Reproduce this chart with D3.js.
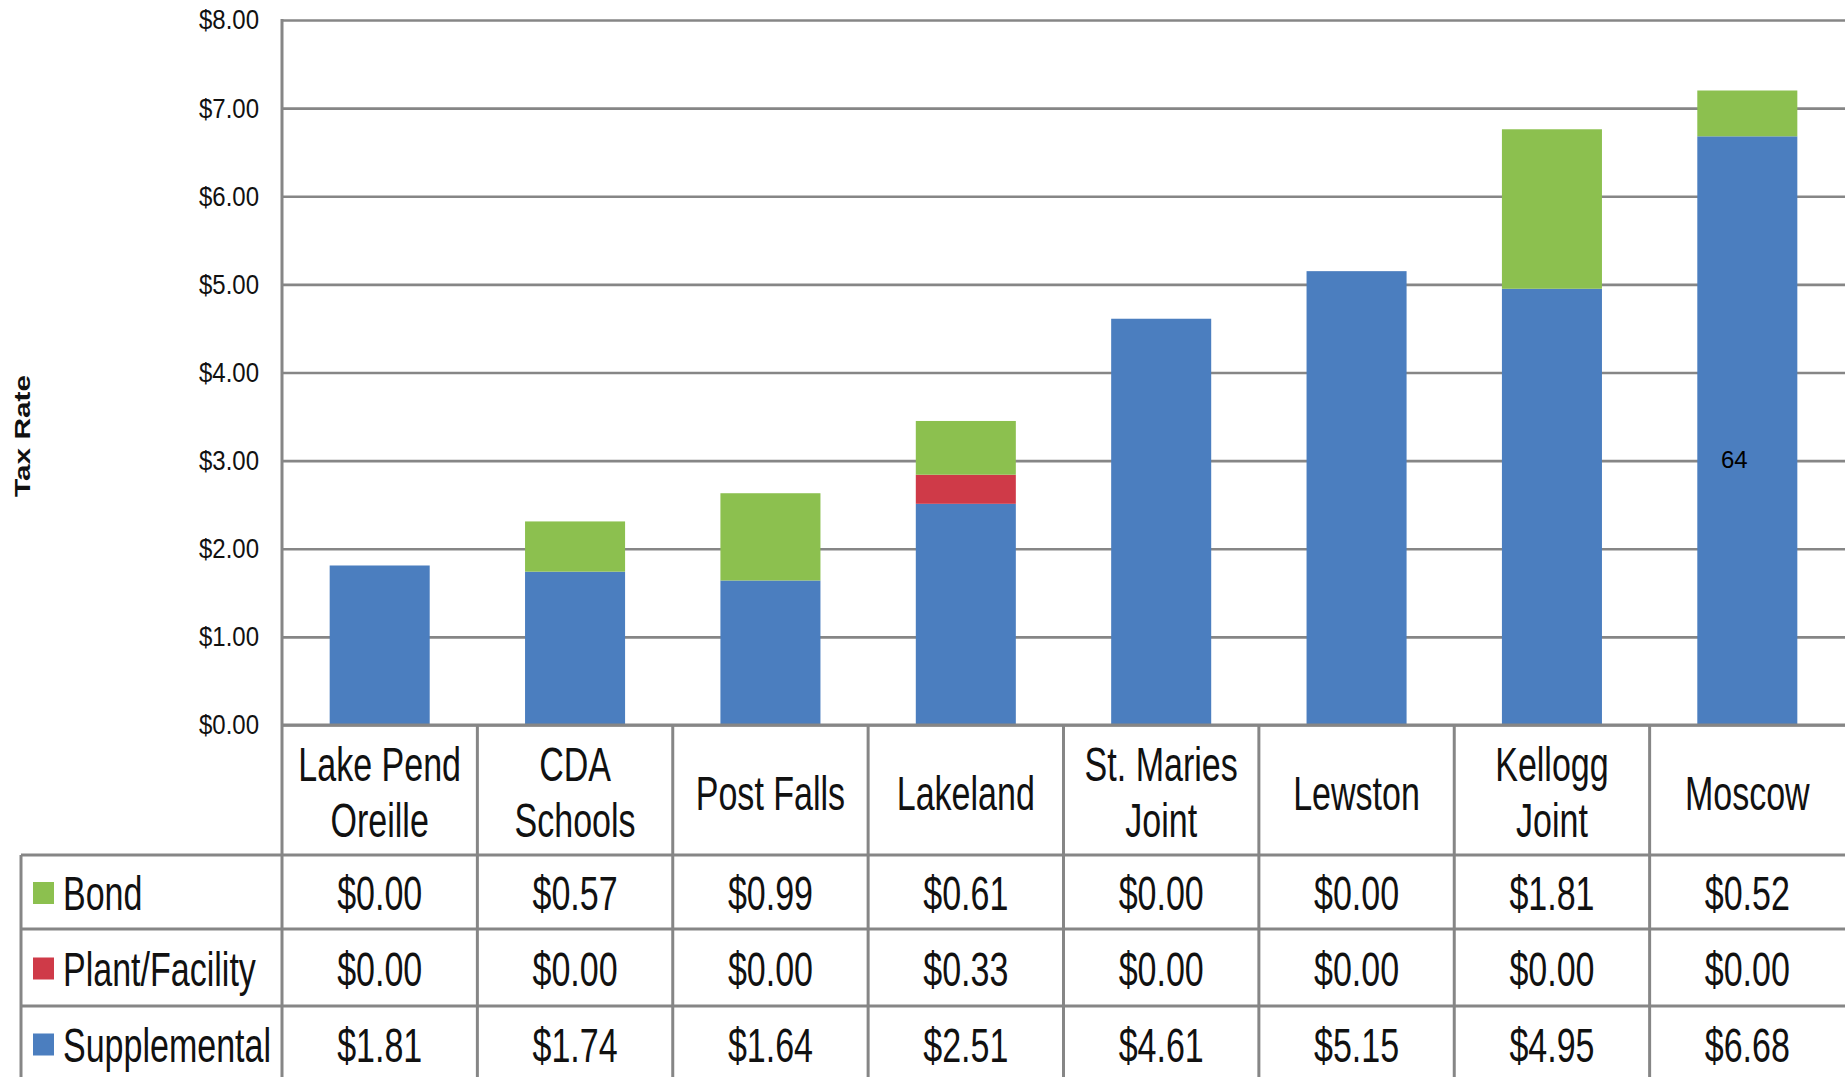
<!DOCTYPE html>
<html>
<head>
<meta charset="utf-8">
<script src="https://cdn.jsdelivr.net/npm/d3@7"></script>
<style>
  html, body { margin: 0; padding: 0; background: #fff; }
  svg { display: block; }
</style>
</head>
<body>
<div id="chart"></div>
<script>
// chart values
const categories = ['Lake Pend\nOreille', 'CDA\nSchools', 'Post Falls', 'Lakeland', 'St. Maries\nJoint', 'Lewston', 'Kellogg\nJoint', 'Moscow'];
const bond = [0.00, 0.57, 0.99, 0.61, 0.00, 0.00, 1.81, 0.52];
const plant = [0.00, 0.00, 0.00, 0.33, 0.00, 0.00, 0.00, 0.00];
const supplemental = [1.81, 1.74, 1.64, 2.51, 4.61, 5.15, 4.95, 6.68];
const seriesNames = ['Bond', 'Plant/Facility', 'Supplemental'];
const yTicks = [0, 1, 2, 3, 4, 5, 6, 7, 8];
const pageNumber = '64';

let width = 1845,
    height = 1077,
    margin = { left: 282, right: 0, top: 20 },
    plotBottom = 725,
    rowLines = [855, 929, 1006, 1081],
    tableLeft = 21,
    colors = { 'Bond': '#8cc04f', 'Plant/Facility': '#cf3a48', 'Supplemental': '#4b7ebf' },
    gridColor = '#868686',
    tableFont = '"Liberation Sans", Arial, sans-serif',
    squeeze = 0.83,
    stretch = 1.17;

const seriesValues = { 'Bond': bond, 'Plant/Facility': plant, 'Supplemental': supplemental };

const rows = categories.map(function(c, i) {
    return { cat: c, 'Bond': bond[i], 'Plant/Facility': plant[i], 'Supplemental': supplemental[i] };
});

const svg = d3.select('#chart').append('svg')
    .attr('width', width)
    .attr('height', height);

const y = d3.scaleLinear().domain([0, 8]).range([plotBottom, margin.top]);
const x = d3.scaleBand().domain(categories)
    .range([margin.left, width - margin.right])
    .paddingInner(0.488)
    .paddingOuter(0.244);
const col = d3.scaleBand().domain(categories).range([margin.left, width - margin.right]);

// gridlines + tick labels
const yAxis = d3.axisLeft(y)
    .tickValues(yTicks)
    .tickSize(-(width - margin.left - margin.right))
    .tickPadding(23)
    .tickFormat(d3.format('$.2f'));

const gAxis = svg.append('g')
    .attr('class', 'y axis')
    .attr('transform', 'translate(' + margin.left + ',0)')
    .call(yAxis);
gAxis.select('.domain').remove();
gAxis.selectAll('line').attr('stroke', gridColor).attr('stroke-width', 2.6);
gAxis.selectAll('text')
    .attr('fill', '#111')
    .attr('font-family', '"Liberation Sans", Arial, sans-serif')
    .attr('font-size', 24)
    .attr('transform', 'scale(1,' + stretch + ')');

// stacked bars
const stack = d3.stack().keys(['Supplemental', 'Plant/Facility', 'Bond']);
const layers = stack(rows);

svg.append('g').selectAll('g')
    .data(layers)
    .enter().append('g')
    .attr('fill', function(d) { return colors[d.key]; })
    .selectAll('rect')
    .data(function(d) { return d; })
    .enter().append('rect')
    .attr('x', function(d) { return x(d.data.cat); })
    .attr('width', x.bandwidth())
    .attr('y', function(d) { return y(d[1]); })
    .attr('height', function(d) { return y(d[0]) - y(d[1]); });

// table lines
const table = svg.append('g').attr('stroke', gridColor).attr('stroke-width', 3);
table.append('line')
    .attr('x1', margin.left).attr('x2', width)
    .attr('y1', plotBottom).attr('y2', plotBottom);
rowLines.slice(0, 3).forEach(function(ly) {
    table.append('line')
        .attr('x1', tableLeft).attr('x2', width)
        .attr('y1', ly).attr('y2', ly);
});
table.append('line')
    .attr('x1', tableLeft).attr('x2', tableLeft)
    .attr('y1', rowLines[0]).attr('y2', height);
// y axis line
table.append('line')
    .attr('x1', margin.left).attr('x2', margin.left)
    .attr('y1', margin.top - 1).attr('y2', height);
categories.slice(1).forEach(function(c) {
    table.append('line')
        .attr('x1', col(c)).attr('x2', col(c))
        .attr('y1', plotBottom).attr('y2', height);
});

// condensed, tall text like the spreadsheet export
function stretchedText(g, tx, ty, str, anchor) {
    return g.append('text')
        .attr('transform', 'translate(' + tx + ',' + ty + ') scale(' + squeeze + ',' + stretch + ')')
        .attr('text-anchor', anchor || 'middle')
        .attr('dy', '0.36em')
        .attr('font-family', tableFont)
        .attr('font-size', 41)
        .attr('fill', '#111')
        .text(str);
}

// category header
const header = svg.append('g');
categories.forEach(function(c) {
    const cx = col(c) + col.bandwidth() / 2;
    const lines = c.split('\n');
    if (lines.length === 1) {
        stretchedText(header, cx, 793, lines[0]);
    } else {
        stretchedText(header, cx, 764, lines[0]);
        stretchedText(header, cx, 820, lines[1]);
    }
});

// value rows
const fmt = d3.format('$.2f');
const body = svg.append('g');
seriesNames.forEach(function(s, r) {
    const top = rowLines[r], bot = rowLines[r + 1];
    const cy = (top + bot) / 2 + 1;
    body.append('rect')
        .attr('x', 33).attr('y', cy - 11)
        .attr('width', 21).attr('height', 22)
        .attr('fill', colors[s]);
    stretchedText(body, 63, cy, s, 'start');
    seriesValues[s].forEach(function(v, i) {
        const c = categories[i];
        stretchedText(body, col(c) + col.bandwidth() / 2, cy, fmt(v));
    });
});

// axis title
svg.append('text')
    .attr('transform', 'translate(22,436) rotate(-90)')
    .attr('text-anchor', 'middle')
    .attr('dy', '0.35em')
    .attr('font-family', '"Liberation Sans", Arial, sans-serif')
    .attr('font-weight', 'bold')
    .attr('font-size', 22)
    .attr('textLength', 122)
    .attr('lengthAdjust', 'spacingAndGlyphs')
    .attr('fill', '#111')
    .text('Tax Rate');

// stray page number on the last bar
svg.append('text')
    .attr('x', x(categories[7]) + x.bandwidth() / 2 - 13)
    .attr('y', 460)
    .attr('dy', '0.35em')
    .attr('text-anchor', 'middle')
    .attr('font-family', '"Liberation Sans", Arial, sans-serif')
    .attr('font-size', 24)
    .attr('fill', '#000')
    .text(pageNumber);
</script>
</body>
</html>
